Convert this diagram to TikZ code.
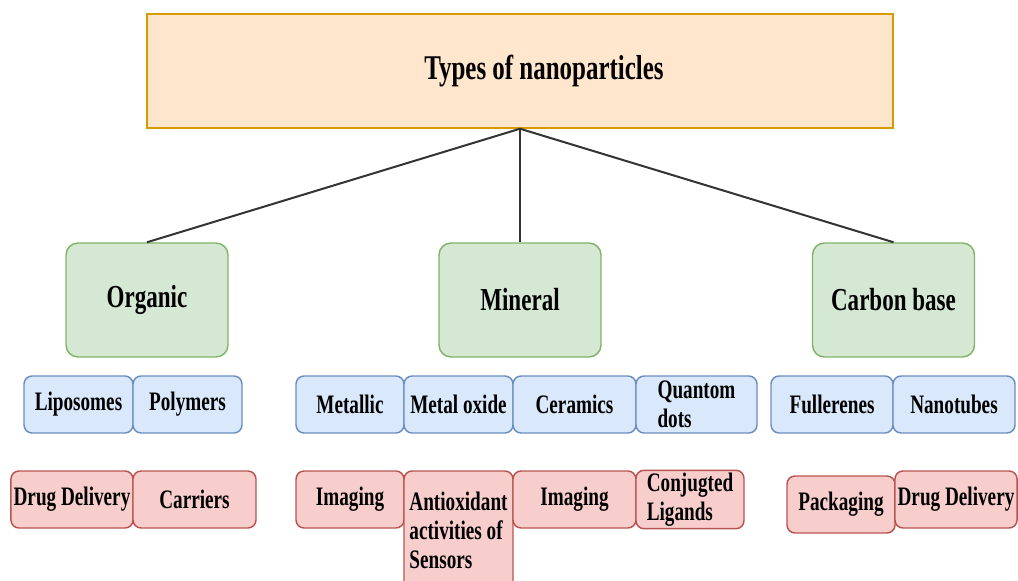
\documentclass[tikz,border=0pt]{standalone}
\usepackage{fontspec}
\setmainfont{Liberation Serif}[FakeStretch=0.72]
\usetikzlibrary{positioning}

\definecolor{headfill}{HTML}{FFE6CC}
\definecolor{headline}{HTML}{D79B00}
\definecolor{groupfill}{HTML}{D5E8D4}
\definecolor{groupline}{HTML}{82B366}
\definecolor{kindfill}{HTML}{DAE8FC}
\definecolor{kindline}{HTML}{6C8EBF}
\definecolor{appfill}{HTML}{F8CECC}
\definecolor{appline}{HTML}{B85450}

\begin{document}
\begin{tikzpicture}[
    x=0.75pt, y=-0.75pt,
    % Styles
    box/.style={ % Any box
        rectangle,
        draw,
        line width=1.1pt,
        inner sep=2pt,
        align=left
    },
    headbox/.style={ % Top box
        box,
        fill=headfill,
        draw=headline,
        minimum width=559.5pt,
        minimum height=85.5pt,
        font=\bfseries\fontsize{26}{28}\selectfont
    },
    groupbox/.style={ % Organic, mineral, carbon
        box,
        fill=groupfill,
        draw=groupline,
        rounded corners=9pt,
        minimum width=121.5pt,
        minimum height=85.5pt,
        font=\bfseries\fontsize{24}{26}\selectfont
    },
    kindbox/.style={ % Kinds of particles
        box,
        fill=kindfill,
        draw=kindline,
        rounded corners=6pt,
        minimum height=42.75pt,
        font=\bfseries\fontsize{20}{21.5}\selectfont
    },
    appbox/.style={ % Applications
        box,
        fill=appfill,
        draw=appline,
        rounded corners=6pt,
        minimum height=42.75pt,
        font=\bfseries\fontsize{20}{21.5}\selectfont
    },
    link/.style={ % Tree lines
        draw=black!80,
        line width=1.5pt
    }
]
    \useasboundingbox (0,0) rectangle (1018,581);

    % Top and groups
    \node [headbox] (head) at (520,71) {\hspace*{36pt}Types of nanoparticles};
    \node [groupbox] (organic) at (147,300) {Organic};
    \node [groupbox] (mineral) at (520,300) {Mineral};
    \node [groupbox] (carbon) at (893.5,300) {Carbon base};

    % Kinds
    \node [kindbox, minimum width=81.75pt] (lipo) at (78.5,404.5) {Liposomes};
    \node [kindbox, minimum width=81.75pt] (poly) at (187.5,404.5) {Polymers};
    \node [kindbox, minimum width=81pt] (metal) at (350,404.5) {Metallic};
    \node [kindbox, minimum width=81.75pt] (oxide) at (458.5,404.5) {Metal oxide};
    \node [kindbox, minimum width=92.25pt] (ceram) at (574.5,404.5) {Ceramics};
    \node [kindbox, minimum width=90.75pt] (quant) at (696.5,404.5) {Quantom\\dots};
    \node [kindbox, minimum width=91.5pt] (fuller) at (832,404.5) {Fullerenes};
    \node [kindbox, minimum width=91.5pt] (tubes) at (954,404.5) {Nanotubes};

    % Applications
    \node [appbox, minimum width=91.5pt] (drugo) at (72,499.5) {Drug Delivery};
    \node [appbox, minimum width=92.25pt] (carr) at (194.5,499.5) {Carriers};
    \node [appbox, minimum width=81pt] (imgm) at (350,499.5) {Imaging};
    \node [appbox, minimum width=81.75pt, minimum height=89.25pt] (anti) at (458.5,530.5) {Antioxidant\\activities of\\Sensors};
    \node [appbox, minimum width=92.25pt] (imgc) at (574.5,499.5) {Imaging};
    \node [appbox, minimum width=81pt] (lig) at (690,499.5) {Conjugted\\Ligands};
    \node [appbox, minimum width=81pt] (pack) at (841,504.5) {Packaging};
    \node [appbox, minimum width=91.5pt] (drugc) at (956,499.5) {Drug Delivery};

    % Lines
    \draw [link] (head.south) -- (organic.north);
    \draw [link] (head.south) -- (mineral.north);
    \draw [link] (head.south) -- (carbon.north);
\end{tikzpicture}
\end{document}
